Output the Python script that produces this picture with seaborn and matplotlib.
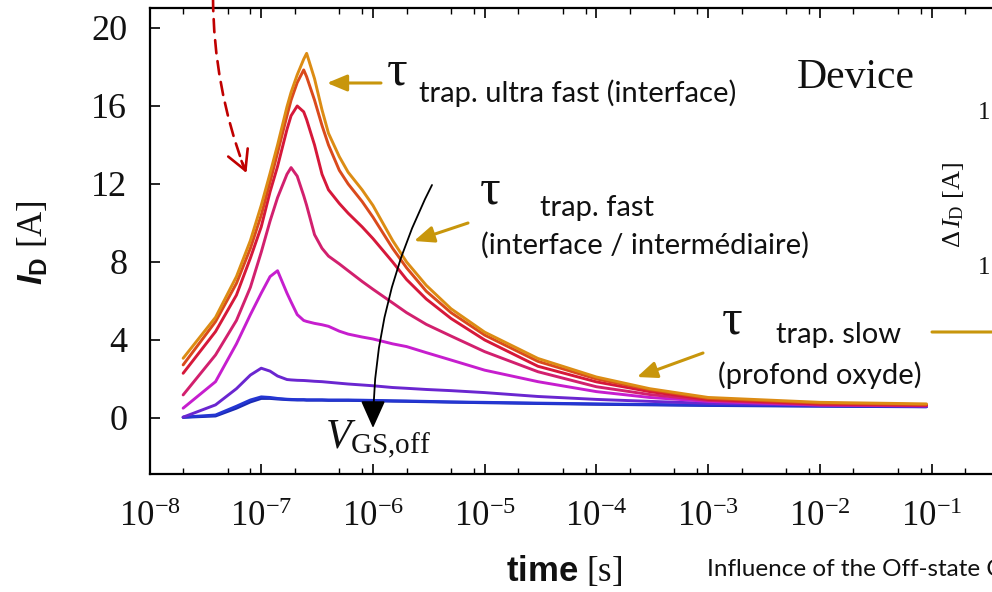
import numpy as np
import pandas as pd
import matplotlib
matplotlib.use("Agg")
import matplotlib.pyplot as plt
import seaborn as sns
from matplotlib.ticker import LogLocator, FuncFormatter, FixedLocator, NullFormatter
from matplotlib.patches import FancyArrowPatch

# ---------------- data ----------------
time_s = [2e-8, 3.9e-8, 6e-8, 8e-8, 1e-7, 1.2e-7, 1.4e-7, 1.7e-7, 1.85e-7, 2.1e-7,
          2.4e-7, 2.55e-7, 3e-7, 3.5e-7, 4e-7, 5e-7, 6e-7, 8e-7, 1e-6, 1.5e-6,
          2e-6, 3e-6, 5e-6, 1e-5, 3e-5, 1e-4, 3e-4, 1e-3, 1e-2, 9e-2]

id_blue2 = [0.03, 0.10, 0.50, 0.82, 1.00, 1.00, 0.97, 0.94, 0.93, 0.92, 0.92, 0.91,
            0.91, 0.91, 0.90, 0.90, 0.90, 0.89, 0.88, 0.86, 0.85, 0.83,
            0.81, 0.78, 0.74, 0.70, 0.67, 0.64, 0.60, 0.57]
id_blue1 = [0.04, 0.15, 0.60, 0.92, 1.08, 1.05, 1.00, 0.96, 0.95, 0.94, 0.94, 0.93,
            0.93, 0.93, 0.92, 0.92, 0.92, 0.91, 0.90, 0.88, 0.87, 0.85,
            0.82, 0.80, 0.76, 0.72, 0.69, 0.66, 0.62, 0.58]
id_purple = [0.04, 0.67, 1.50, 2.20, 2.55, 2.40, 2.15, 1.97, 1.95, 1.93, 1.92, 1.91,
             1.88, 1.86, 1.83, 1.78, 1.74, 1.69, 1.65, 1.56, 1.52, 1.46,
             1.40, 1.30, 1.10, 0.95, 0.85, 0.75, 0.65, 0.60]
id_magenta = [0.50, 1.86, 3.80, 5.30, 6.40, 7.25, 7.55, 6.40, 5.95, 5.30, 5.00, 4.95,
              4.85, 4.78, 4.70, 4.45, 4.30, 4.15, 4.05, 3.80, 3.66, 3.35,
              2.97, 2.45, 1.86, 1.35, 1.05, 0.85, 0.66, 0.62]
id_crimson = [1.18, 3.23, 5.00, 6.70, 8.50, 10.1, 11.3, 12.5, 12.84, 12.4, 11.4, 10.9,
              9.40, 8.70, 8.30, 7.90, 7.55, 7.00, 6.60, 5.90, 5.40, 4.80,
              4.20, 3.40, 2.37, 1.60, 1.20, 0.90, 0.68, 0.63]
id_red = [2.29, 4.43, 6.30, 8.20, 9.80, 11.6, 12.9, 14.8, 15.5, 16.0, 15.7, 15.3,
          14.0, 12.5, 11.7, 11.0, 10.5, 9.80, 9.20, 8.00, 7.10, 6.10,
          5.10, 4.00, 2.65, 1.85, 1.35, 0.95, 0.72, 0.66]
id_orangered = [2.72, 4.94, 6.90, 8.70, 10.4, 12.1, 13.6, 15.5, 16.3, 17.2, 17.85, 17.5,
                16.3, 15.0, 14.0, 12.7, 12.0, 11.1, 10.3, 8.70, 7.70, 6.50,
                5.40, 4.25, 2.90, 2.00, 1.45, 1.00, 0.76, 0.68]
id_orange = [3.06, 5.16, 7.25, 9.10, 10.9, 12.55, 14.0, 15.96, 16.7, 17.6, 18.4, 18.7,
             17.4, 15.8, 14.6, 13.4, 12.6, 11.7, 10.9, 9.10, 8.00, 6.80,
             5.60, 4.40, 3.05, 2.10, 1.50, 1.05, 0.80, 0.72]

series_names = ["blue2", "blue1", "purple", "magenta", "crimson", "red", "orangered", "orange"]
series_values = [id_blue2, id_blue1, id_purple, id_magenta, id_crimson, id_red, id_orangered, id_orange]
series_colors = ["#1A2AB4", "#2436D2", "#6A26D0", "#C61ECE", "#D2206E", "#D6183A", "#DA4A1C", "#DC8C14"]

x_tick_values = [1e-8, 1e-7, 1e-6, 1e-5, 1e-4, 1e-3, 1e-2, 1e-1]
y_tick_values = [0, 4, 8, 12, 16, 20]

df = pd.concat([pd.DataFrame({"time": time_s, "ID": v, "curve": n})
                for n, v in zip(series_names, series_values)], ignore_index=True)

# ---------------- style ----------------
sns.set_theme(style="ticks")
plt.rcParams.update({
    "font.family": ["Liberation Serif", "DejaVu Serif"],
    "mathtext.fontset": "custom",
    "mathtext.rm": "Liberation Serif",
    "mathtext.it": "Liberation Serif:italic",
    "mathtext.bf": "Liberation Sans:bold",
    "axes.linewidth": 1.6,
    "axes.edgecolor": "black",
    "lines.solid_joinstyle": "round",
})
if "mathtext.bfit" in plt.rcParams:
    plt.rcParams["mathtext.bfit"] = "Liberation Sans:bold:italic"

W, H = 992, 592
fig = plt.figure(figsize=(W / 100, H / 100), dpi=100)
left_px, right_px, top_px, bot_px = 149.5, 1155.0, 8.5, 473.5
ax = fig.add_axes([left_px / W, 1 - bot_px / H, (right_px - left_px) / W, (bot_px - top_px) / H])

sns.lineplot(data=df, x="time", y="ID", hue="curve", hue_order=series_names,
             palette=series_colors, linewidth=2.1, legend=False, ax=ax, sort=True,
             estimator=None)
ax.set_xscale("log")
ax.set_xlim(1e-8, 1e1)
ax.set_ylim(-2.85, 21.0)

ax.xaxis.set_major_locator(FixedLocator(x_tick_values))
ax.xaxis.set_major_formatter(FuncFormatter(lambda v, p: r"$10^{%d}$" % int(round(np.log10(v)))))
ax.xaxis.set_minor_locator(LogLocator(base=10, subs=[2, 5, 8], numticks=30))
ax.xaxis.set_minor_formatter(NullFormatter())
ax.yaxis.set_major_locator(FixedLocator(y_tick_values))
ax.yaxis.set_minor_locator(FixedLocator([]))

ax.tick_params(axis="both", which="both", direction="in", top=True, right=True,
               colors="black", labelcolor="#111111")
ax.tick_params(axis="both", which="major", length=7, width=1.2)
ax.tick_params(axis="x", which="major", pad=20, labelsize=25)
ax.tick_params(axis="y", which="major", pad=16, labelsize=26)
ax.tick_params(axis="x", which="minor", length=4, width=1.0)
for lab in ax.get_xticklabels() + ax.get_yticklabels():
    lab.set_fontfamily("Liberation Serif")

ax.set_xlabel(r"$\mathbf{time}$ [s]", fontsize=25, color="#111111")
ax.xaxis.set_label_coords((564 - left_px) / (right_px - left_px), -(572 - bot_px) / (bot_px - top_px))
ax.xaxis.label.set_va("center")
ylab = r"$\mathbfit{I}_{\mathbf{D}}$ [A]" if "mathtext.bfit" in plt.rcParams else r"$\mathbf{I}_{\mathbf{D}}$ [A]"
ax.set_ylabel(ylab, fontsize=25, color="#111111")
ax.yaxis.set_label_coords(-(left_px - 34) / (right_px - left_px), (bot_px - 243) / (bot_px - top_px))
ax.yaxis.label.set_va("center")


def P(x, y):
    return (x / W, 1 - y / H)


gold = "#C8960C"
sans = ["Lato", "DejaVu Sans"]

# ---- annotations ----
def arrow(a, b, style, color, lw=1.8, rad=0.0, ls="-", ms=20, z=5):
    p = FancyArrowPatch(posA=P(*a), posB=P(*b), arrowstyle=style,
                        connectionstyle=f"arc3,rad={rad}", color=color, lw=lw,
                        linestyle=ls, mutation_scale=ms, transform=fig.transFigure,
                        shrinkA=0, shrinkB=0, zorder=z)
    fig.patches.append(p)

# red dashed arrow
arrow((213, -2), (245, 170), "-", "#C00000", lw=1.9, rad=0.09, ls=(0, (5, 3)))
arrow((241.5, 161), (246.5, 173), "->,head_length=0.7,head_width=0.38", "#C00000", lw=1.9)

# black V_GS arrow
arrow((432, 185), (373, 428), "-|>,head_length=0.85,head_width=0.38", "black", lw=1.3, rad=0.12)

# gold arrows
hs = "-|>,head_length=0.6,head_width=0.25"
arrow((381, 83), (327, 83), hs, gold, lw=2.2)
arrow((468, 223), (414, 241), hs, gold, lw=2.2)
arrow((703, 353), (637, 377), hs, gold, lw=2.2)
arrow((932, 332), (995, 332), "-", gold, lw=2.2)

# texts
tau_kw = dict(fontsize=37, fontfamily="Liberation Serif", color="#111111", ha="center", va="center")
fig.text(*P(397, 72), "τ", **tau_kw)
fig.text(*P(490, 191), "τ", **tau_kw)
fig.text(*P(732, 321), "τ", **tau_kw)

lab_kw = dict(fontsize=21, fontfamily=sans, color="#111111", ha="left", va="center")
fig.text(*P(419, 93), "trap. ultra fast (interface)", **lab_kw)
fig.text(*P(540, 208), "trap. fast", **lab_kw)
fig.text(*P(481, 245), "(interface / intermédiaire)", **lab_kw)
fig.text(*P(776, 335), "trap. slow", **lab_kw)
fig.text(*P(718, 375), "(profond oxyde)", **lab_kw)

fig.text(*P(797, 78), "Device", fontsize=30, fontfamily="Liberation Serif",
         color="#111111", ha="left", va="center")
fig.text(*P(325, 440), r"$V_{\mathrm{GS{,}off}}$", fontsize=30, color="#111111",
         ha="left", va="center")
fig.text(*P(953, 205), r"$\Delta\,I_{\mathrm{D}}$ [A]", fontsize=19, color="#111111",
         rotation=90, ha="center", va="center")
fig.text(*P(978, 113), "1", fontsize=18, color="#111111", ha="left", va="center")
fig.text(*P(978, 268), "1", fontsize=18, color="#111111", ha="left", va="center")
fig.text(*P(707, 570), "Influence of the Off-state Conditions on the Trapping", fontsize=17.5,
         fontfamily=sans, color="#111111", ha="left", va="center")

fig.savefig("out.png", dpi=100)
